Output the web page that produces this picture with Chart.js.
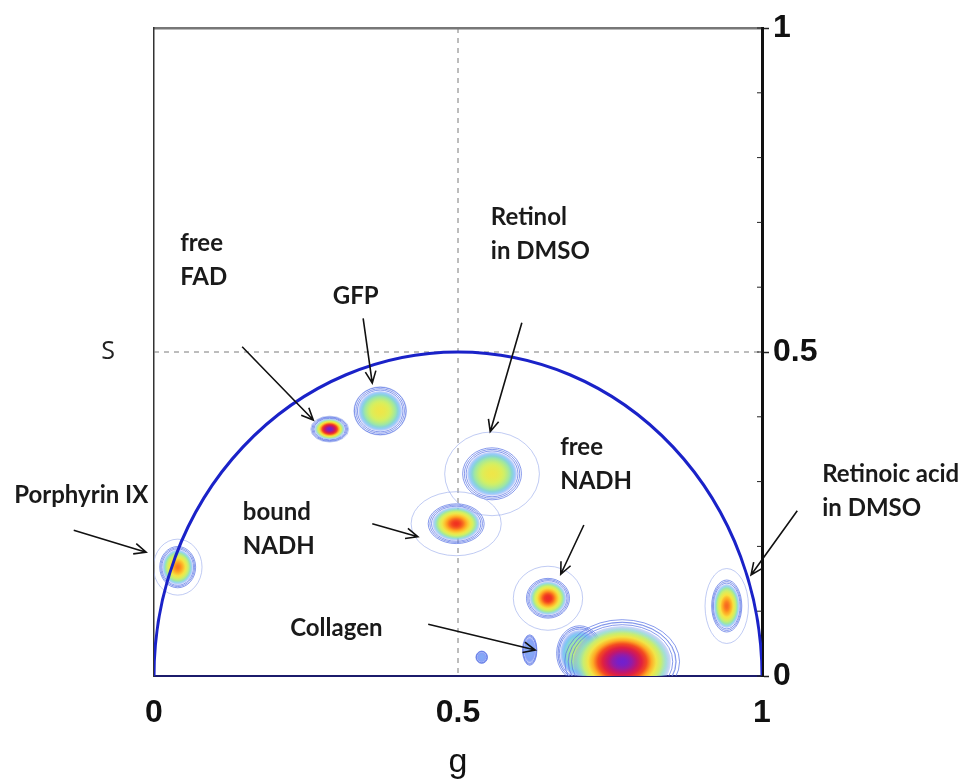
<!DOCTYPE html>
<html>
<head>
<meta charset="utf-8">
<script src="https://cdn.jsdelivr.net/npm/chart.js@4.4.0/dist/chart.umd.min.js"></script>
<style>
  html, body { margin: 0; padding: 0; background: #fff; }
  #wrap { width: 966px; height: 782px; }
</style>
</head>
<body>
<div id="wrap"><canvas id="phasorChart"></canvas></div>
<script>
// phasor clusters (g, s), their spread and peak density
const species = ["Porphyrin IX", "free FAD", "GFP", "Retinol in DMSO", "bound NADH", "free NADH",
                 "Retinoic acid in DMSO", "Collagen shoulder", "Collagen", "speck A", "speck B"];
const gValues = [0.039, 0.289, 0.372, 0.556, 0.497, 0.648, 0.942, 0.700, 0.770, 0.539, 0.618];
const sValues = [0.168, 0.381, 0.409, 0.312, 0.235, 0.120, 0.108, 0.035, 0.022, 0.029, 0.040];
const gSpread = [0.025, 0.025, 0.036, 0.041, 0.039, 0.030, 0.021, 0.032, 0.080, 0.008, 0.010];
const sSpread = [0.027, 0.016, 0.031, 0.034, 0.026, 0.026, 0.034, 0.036, 0.055, 0.008, 0.020];
const peakLevel = [0.70, 1.00, 0.50, 0.50, 0.78, 0.80, 0.72, 0.35, 1.00, 0.04, 0.04];

const xTicks = [0, 0.5, 1];
const yTicks = [0, 0.5, 1];
const refLines = { g: 0.5, s: 0.5 };
const universalCircle = { g: 0.5, s: 0, r: 0.5 };

// text callouts: anchor of first line and arrow, in (g, s)
const callouts = [
    { lines: ["free", "FAD"], at: [0.043, 0.668], from: [0.145, 0.508], to: [0.262, 0.395] },
    { lines: ["GFP"], at: [0.294, 0.586], from: [0.344, 0.552], to: [0.359, 0.452] },
    { lines: ["Retinol", "in DMSO"], at: [0.554, 0.708], from: [0.605, 0.545], to: [0.553, 0.377] },
    { lines: ["free", "NADH"], at: [0.668, 0.353], from: [0.707, 0.233], to: [0.669, 0.157] },
    { lines: ["bound", "NADH"], at: [0.146, 0.253], from: [0.359, 0.235], to: [0.434, 0.215] },
    { lines: ["Porphyrin IX"], at: [-0.230, 0.279], from: [-0.132, 0.225], to: [-0.013, 0.191] },
    { lines: ["Collagen"], at: [0.224, 0.074], from: [0.451, 0.080], to: [0.627, 0.040] },
    { lines: ["Retinoic acid", "in DMSO"], at: [1.099, 0.312], from: [1.058, 0.255], to: [0.982, 0.156] }
];

// faint outer contour size relative to each cluster
const haloScale = [1.6, 1.25, 1.2, 1.9, 1.9, 1.9, 1.7, 1.1, 1.1, 1.0, 1.0];

const colourStops = [
    [0.00, [138, 156, 246]],
    [0.12, [120, 200, 245]],
    [0.26, [160, 232, 160]],
    [0.40, [214, 240, 96]],
    [0.54, [248, 226, 64]],
    [0.66, [255, 160, 32]],
    [0.78, [240, 48, 32]],
    [0.89, [210, 20, 90]],
    [1.00, [112, 32, 208]]
];

function colourAt(v) {
    v = Math.max(0, Math.min(1, v));
    for (let i = 1; i < colourStops.length; i++) {
        const [p1, c1] = colourStops[i];
        const [p0, c0] = colourStops[i - 1];
        if (v <= p1) {
            const t = (v - p0) / (p1 - p0);
            return c0.map((c, k) => Math.round(c + (c1[k] - c) * t)).join(",");
        }
    }
    return colourStops[colourStops.length - 1][1].join(",");
}

function drawBlob(ctx, cx, cy, rx, ry, peak, halo) {
    ctx.save();
    ctx.lineWidth = 1;
    if (halo > 1.05) {
        ctx.strokeStyle = "rgba(150,168,235,0.6)";
        ctx.beginPath();
        ctx.ellipse(cx, cy, rx * halo, ry * halo, 0, 0, Math.PI * 2);
        ctx.stroke();
    }
    ctx.strokeStyle = "rgba(95,120,230,0.75)";
    [1.18, 1.11, 1.04].forEach(k => {
        ctx.beginPath();
        ctx.ellipse(cx, cy, rx * k, ry * k, 0, 0, Math.PI * 2);
        ctx.stroke();
    });
    ctx.translate(cx, cy);
    ctx.scale(rx, ry);
    const grad = ctx.createRadialGradient(0, 0, 0, 0, 0, 1);
    for (let k = 0; k <= 10; k++) {
        const r = k / 10;
        const a = r < 0.85 ? 1 : 1 - (r - 0.85) / 0.15 * 0.6;
        grad.addColorStop(r, `rgba(${colourAt(peak * (1 - r * r))},${a})`);
    }
    ctx.fillStyle = grad;
    ctx.beginPath();
    ctx.arc(0, 0, 1, 0, Math.PI * 2);
    ctx.fill();
    ctx.restore();
}

function drawArrow(ctx, x0, y0, x1, y1) {
    const ang = Math.atan2(y1 - y0, x1 - x0);
    const head = 13, spread = 0.42;
    ctx.beginPath();
    ctx.moveTo(x0, y0);
    ctx.lineTo(x1, y1);
    ctx.moveTo(x1 - head * Math.cos(ang - spread), y1 - head * Math.sin(ang - spread));
    ctx.lineTo(x1, y1);
    ctx.lineTo(x1 - head * Math.cos(ang + spread), y1 - head * Math.sin(ang + spread));
    ctx.stroke();
}

const phasorDecor = {
    id: "phasorDecor",
    beforeDatasetsDraw(chart) {
        const { ctx, chartArea: area, scales: { x, y } } = chart;
        ctx.save();
        ctx.beginPath();
        ctx.rect(area.left, area.top, area.right - area.left, area.bottom - area.top);
        ctx.clip();

        // dashed reference lines
        ctx.strokeStyle = "#7a7a7a";
        ctx.lineWidth = 1;
        ctx.setLineDash([5, 5]);
        const gx = x.getPixelForValue(refLines.g);
        const sy = y.getPixelForValue(refLines.s);
        ctx.beginPath();
        ctx.moveTo(gx, area.top);
        ctx.lineTo(gx, area.bottom);
        ctx.moveTo(area.left, sy);
        ctx.lineTo(area.right, sy);
        ctx.stroke();
        ctx.setLineDash([]);

        // clusters
        const meta = chart.getDatasetMeta(0);
        meta.data.forEach((pt, i) => {
            const rx = Math.abs(x.getPixelForValue(gValues[i] + gSpread[i]) - pt.x);
            const ry = Math.abs(y.getPixelForValue(sValues[i] + sSpread[i]) - pt.y);
            drawBlob(ctx, pt.x, pt.y, rx, ry, peakLevel[i], haloScale[i]);
        });

        // universal semicircle
        const cx = x.getPixelForValue(universalCircle.g);
        const cy = y.getPixelForValue(universalCircle.s);
        const rx = x.getPixelForValue(universalCircle.g + universalCircle.r) - cx;
        const ry = cy - y.getPixelForValue(universalCircle.s + universalCircle.r);
        ctx.strokeStyle = "#1a22c8";
        ctx.lineWidth = 3;
        ctx.beginPath();
        ctx.ellipse(cx, cy, rx, ry, 0, Math.PI, Math.PI * 2);
        ctx.stroke();
        ctx.restore();

        // minor ticks inside the right axis
        ctx.save();
        ctx.strokeStyle = "#222";
        ctx.lineWidth = 1;
        y.ticks.forEach(t => {
            const py = y.getPixelForValue(t.value);
            ctx.beginPath();
            ctx.moveTo(area.right - 5, py);
            ctx.lineTo(area.right, py);
            ctx.stroke();
        });
        ctx.restore();
    },
    afterDraw(chart) {
        const { ctx, scales: { x, y } } = chart;
        ctx.save();
        ctx.fillStyle = "#1a1a1a";
        ctx.strokeStyle = "#111";
        ctx.lineWidth = 1.6;
        ctx.font = "bold 24px Lato";
        ctx.textAlign = "left";
        ctx.textBaseline = "middle";
        callouts.forEach(c => {
            const tx = x.getPixelForValue(c.at[0]);
            const ty = y.getPixelForValue(c.at[1]);
            c.lines.forEach((line, k) => ctx.fillText(line, tx, ty + k * 34));
            drawArrow(ctx,
                x.getPixelForValue(c.from[0]), y.getPixelForValue(c.from[1]),
                x.getPixelForValue(c.to[0]), y.getPixelForValue(c.to[1]));
        });
        ctx.restore();
    }
};

const isMajor = v => yTicks.some(t => Math.abs(t - v) < 1e-6);
const tickFont = { family: "Liberation Sans", size: 32, weight: "bold" };
const noPad = s => { s.paddingTop = 0; s.paddingBottom = 0; s.paddingLeft = 0; s.paddingRight = 0; };

new Chart(document.getElementById("phasorChart"), {
    type: "scatter",
    data: {
        datasets: [{
            label: "clusters",
            data: gValues.map((g, i) => ({ x: g, y: sValues[i] })),
            pointRadius: 0,
            pointHoverRadius: 0
        }]
    },
    options: {
        responsive: true,
        maintainAspectRatio: false,
        animation: false,
        events: [],
        layout: { padding: 0 },
        plugins: { legend: { display: false }, tooltip: { enabled: false } },
        scales: {
            x: {
                type: "linear", position: "bottom", min: 0, max: 1,
                afterBuildTicks: s => { s.ticks = xTicks.map(v => ({ value: v })); },
                afterFit: s => { s.height = 106; noPad(s); },
                ticks: { font: tickFont, color: "#111", padding: 18, maxRotation: 0, autoSkip: false,
                         callback: v => String(v) },
                grid: { drawOnChartArea: false, drawTicks: false },
                border: { color: "#1b1b6b", width: 2 },
                title: { display: true, text: "g", color: "#111",
                         font: { family: "Liberation Sans", size: 34, lineHeight: 1 }, padding: { top: 0, bottom: 2 } }
            },
            xTop: {
                type: "linear", position: "top", min: 0, max: 1,
                afterFit: s => { s.height = 28; noPad(s); },
                ticks: { display: false },
                grid: { drawOnChartArea: false, drawTicks: false },
                border: { color: "#777", width: 2.5 }
            },
            y: {
                type: "linear", position: "right", min: 0, max: 1,
                afterFit: s => { s.width = 204; noPad(s); },
                ticks: {
                    stepSize: 0.1, autoSkip: false, font: tickFont, color: "#111", padding: 4,
                    callback: v => isMajor(v) ? String(Math.round(v * 10) / 10) : ""
                },
                grid: {
                    drawOnChartArea: false, tickLength: 7, tickWidth: 1.5,
                    tickColor: c => (c.tick && isMajor(c.tick.value)) ? "#222" : "rgba(0,0,0,0)"
                },
                border: { color: "#111", width: 3 }
            },
            yLeft: {
                type: "linear", position: "left", min: 0, max: 1,
                afterFit: s => { s.width = 154; noPad(s); },
                afterBuildTicks: s => { s.ticks = yTicks.map(v => ({ value: v })); },
                ticks: {
                    font: { family: "Open Sans", size: 25 }, color: "#222", padding: 39,
                    callback: v => v === 0.5 ? "S" : ""
                },
                grid: { drawOnChartArea: false, drawTicks: false },
                border: { color: "#333", width: 1.5 }
            }
        }
    },
    plugins: [phasorDecor]
});
</script>
</body>
</html>
